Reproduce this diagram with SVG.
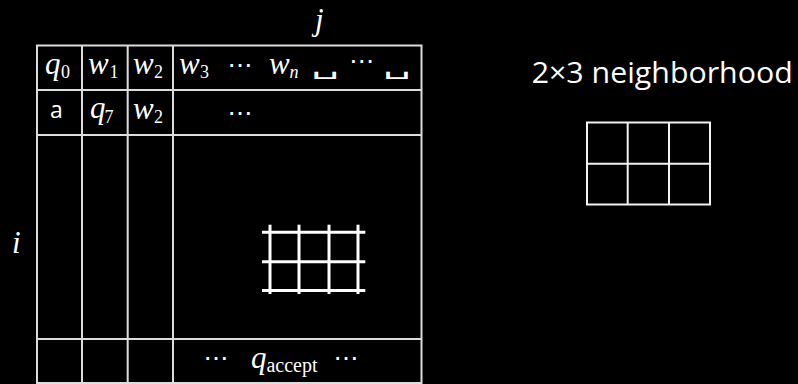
<svg xmlns="http://www.w3.org/2000/svg" width="798" height="384" viewBox="0 0 798 384">
<style>
.bg{fill:#000}
.tl{stroke:#dcdcdc;stroke-width:2;fill:none}
.gl{stroke:#ffffff;stroke-width:3;fill:none}
.nl{stroke:#f2f2f2;stroke-width:2;fill:none}
.m{font-family:"Liberation Serif",serif;font-style:italic;font-size:31px;fill:#fff}
.s{font-family:"Liberation Serif",serif;font-size:18px;fill:#fff}
.si{font-family:"Liberation Serif",serif;font-style:italic;font-size:18px;fill:#fff}
.d{font-family:"DejaVu Sans",sans-serif;font-size:24px;fill:#fff;text-anchor:middle}
.b{font-family:"DejaVu Sans",sans-serif;font-size:22px;fill:#fff}
.t{font-family:"Open Sans",sans-serif;fill:#fff}
</style>
<rect class="bg" x="0" y="0" width="798" height="384"/>
<g id="table">
<rect class="tl" x="37" y="45.5" width="384.5" height="337.5"/>
<line class="tl" x1="37" y1="90" x2="421.5" y2="90"/>
<line class="tl" x1="37" y1="135" x2="421.5" y2="135"/>
<line class="tl" x1="37" y1="339" x2="421.5" y2="339"/>
<line class="tl" x1="82" y1="45.5" x2="82" y2="383"/>
<line class="tl" x1="127.7" y1="45.5" x2="127.7" y2="383"/>
<line class="tl" x1="173" y1="45.5" x2="173" y2="383"/>
</g>
<g id="row1">
<text class="m" x="45" y="74">q</text><text class="s" x="61" y="78.3">0</text>
<text class="m" x="88" y="74">w</text><text class="s" x="109.5" y="78.3">1</text>
<text class="m" x="133" y="74">w</text><text class="s" x="154" y="78.3">2</text>
<text class="m" x="179" y="74">w</text><text class="s" x="200" y="78.3">3</text>
<text class="d" x="240" y="72.5" textLength="25" lengthAdjust="spacingAndGlyphs">⋯</text>
<text class="m" x="269" y="74">w</text><text class="si" x="289.5" y="78.3">n</text>
<text class="b" x="311.8" y="74" textLength="28" lengthAdjust="spacingAndGlyphs">␣</text>
<text class="d" x="361.7" y="69.2" textLength="25" lengthAdjust="spacingAndGlyphs">⋯</text>
<text class="b" x="383.5" y="74" textLength="28" lengthAdjust="spacingAndGlyphs">␣</text>
</g>
<g id="row2">
<text class="t" x="50" y="118" font-size="23">a</text>
<text class="m" x="90" y="118">q</text><text class="s" x="104.5" y="122.5">7</text>
<text class="m" x="133" y="118.5">w</text><text class="s" x="154" y="123">2</text>
<text class="d" x="240" y="120.5" textLength="25" lengthAdjust="spacingAndGlyphs">⋯</text>
</g>
<g id="row-last">
<text class="d" x="216" y="366.3" textLength="25" lengthAdjust="spacingAndGlyphs">⋯</text>
<text class="m" x="251" y="367.5">q</text>
<text x="266.5" y="371.5" font-family="Liberation Serif, serif" font-size="20.5" fill="#fff" textLength="51" lengthAdjust="spacingAndGlyphs">accept</text>
<text class="d" x="346" y="366.3" textLength="25" lengthAdjust="spacingAndGlyphs">⋯</text>
</g>
<g id="labels">
<text class="m" x="315" y="30" font-size="33">j</text>
<text class="m" x="12" y="253" font-size="33">i</text>
</g>
<g id="inner-grid">
<line class="gl" x1="262" y1="232.3" x2="365.3" y2="232.3"/>
<line class="gl" x1="262" y1="261.7" x2="365.3" y2="261.7"/>
<line class="gl" x1="262" y1="290.5" x2="365.3" y2="290.5"/>
<line class="gl" x1="270" y1="224.7" x2="270" y2="294"/>
<line class="gl" x1="299" y1="224.7" x2="299" y2="294"/>
<line class="gl" x1="329" y1="224.7" x2="329" y2="294"/>
<line class="gl" x1="358" y1="224.7" x2="358" y2="294"/>
</g>
<g id="neighborhood">
<text class="t" x="531.7" y="83.3" font-size="28.5" textLength="261" lengthAdjust="spacingAndGlyphs">2×3 neighborhood</text>
<rect class="nl" x="587" y="122.5" width="123" height="82"/>
<line class="nl" x1="587" y1="163.7" x2="710" y2="163.7"/>
<line class="nl" x1="627.7" y1="122.5" x2="627.7" y2="204.5"/>
<line class="nl" x1="669" y1="122.5" x2="669" y2="204.5"/>
</g>
</svg>
